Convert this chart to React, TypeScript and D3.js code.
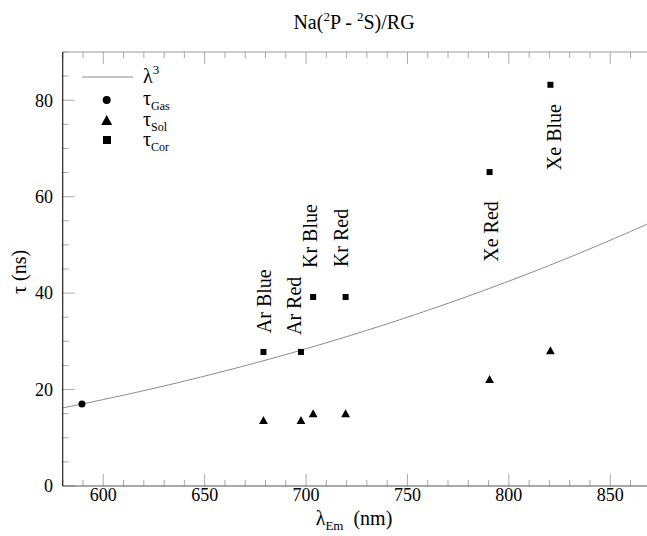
import React from "react";
import * as d3 from "d3";

// ---- data ----
const gasLambda = [589.5];
const gasTau = [17];

const solLambda = [679, 697.5, 703.5, 719.5, 790.5, 820.5];
const solTau = [13.5, 13.5, 14.9, 14.9, 22, 28];

const corLambda = [679, 697.5, 703.5, 719.5, 790.5, 820.5];
const corTau = [27.8, 27.8, 39.2, 39.2, 65.1, 83.2];

const labelNames = ["Ar Blue", "Ar Red", "Kr Blue", "Kr Red", "Xe Red", "Xe Blue"];
const labelLambda = [682.5, 697.5, 705.4, 720.7, 794.7, 825.7];
const labelTau = [31.7, 31.3, 45.2, 45.4, 46.5, 65.5];

const xTicks = [600, 650, 700, 750, 800, 850];
const yTicks = [0, 20, 40, 60, 80];

const curveRef = { lambda: 589.5, tau: 17 };

const W = 647;
const H = 536;
const FONT = "'Liberation Serif', 'Times New Roman', serif";

export default function App() {
  const x = d3.scaleLinear().domain([580, 870]).range([62.7, 650.8]);
  const y = d3.scaleLinear().domain([0, 90]).range([486, 52]);

  const curvePts = d3.range(580, 871, 2).map((l) => [l, curveRef.tau * Math.pow(l / curveRef.lambda, 3)] as [number, number]);
  const line = d3
    .line<[number, number]>()
    .x((d) => x(d[0]))
    .y((d) => y(d[1]));

  const xMinor = d3.range(580, 871, 10);
  const yMinor = d3.range(0, 91, 5);

  const x0 = x.range()[0];
  const x1 = x.range()[1];
  const yb = y.range()[0];
  const yt = y.range()[1];

  const tri = (cx: number, cy: number, s: number) =>
    `M${cx},${cy - s * 0.6}L${cx + s * 0.55},${cy + s * 0.4}L${cx - s * 0.55},${cy + s * 0.4}Z`;

  return (
    <svg
      width={W}
      height={H}
      style={{ position: "absolute", left: 0, top: 0, background: "#fff" }}
      fontFamily={FONT}
    >
      {/* title */}
      <text x={354} y={29} textAnchor="middle" fontSize={20} fill="#000">
        Na(
        <tspan fontSize={13} dy={-8}>2</tspan>
        <tspan dy={8}>P - </tspan>
        <tspan fontSize={13} dy={-8}>2</tspan>
        <tspan dy={8}>S)/RG</tspan>
      </text>

      {/* curve */}
      <clipPath id="plotclip">
        <rect x={x0} y={yt} width={x1 - x0} height={yb - yt} />
      </clipPath>
      <path d={line(curvePts) || ""} fill="none" stroke="#8a8a8a" strokeWidth={1} clipPath="url(#plotclip)" />

      {/* ticks */}
      {xMinor.map((v) => {
        const major = v % 50 === 0;
        const len = major ? 12 : 6;
        return (
          <g key={"xm" + v}>
            <line x1={x(v)} x2={x(v)} y1={yb} y2={yb - len} stroke="#aaa" strokeWidth={1} />
            <line x1={x(v)} x2={x(v)} y1={yt} y2={yt + len} stroke="#aaa" strokeWidth={1} />
          </g>
        );
      })}
      {yMinor.map((v) => {
        const major = v % 20 === 0;
        const len = major ? 12 : 6;
        return <line key={"ym" + v} x1={x0} x2={x0 + len} y1={y(v)} y2={y(v)} stroke="#aaa" strokeWidth={1} />;
      })}

      {/* axes lines */}
      <line x1={x0} x2={x1} y1={yt} y2={yt} stroke="#999" strokeWidth={1.2} />
      <line x1={x0} x2={x1} y1={yb} y2={yb} stroke="#555" strokeWidth={1.2} />
      <line x1={x0} x2={x0} y1={yt} y2={yb} stroke="#222" strokeWidth={1.2} />

      {/* tick labels */}
      {xTicks.map((v) => (
        <text key={"xt" + v} x={x(v)} y={501} textAnchor="middle" fontSize={18} fill="#000">
          {v}
        </text>
      ))}
      {yTicks.map((v) => (
        <text key={"yt" + v} x={53} y={y(v) + 6.3} textAnchor="end" fontSize={18} fill="#000">
          {v}
        </text>
      ))}

      {/* axis titles */}
      <text x={354} y={525} textAnchor="middle" fontSize={20} fill="#000">
        λ<tspan fontSize={13} dy={5}>Em</tspan>
        <tspan dy={-5}>{"\u00a0\u00a0(nm)"}</tspan>
      </text>
      <text transform={`translate(26,272) rotate(-90)`} textAnchor="middle" fontSize={20} fill="#000">
        τ (ns)
      </text>

      {/* data */}
      {gasLambda.map((l, i) => (
        <circle key={"g" + i} cx={x(l)} cy={y(gasTau[i])} r={3.5} fill="#000" />
      ))}
      {solLambda.map((l, i) => (
        <path key={"s" + i} d={tri(x(l), y(solTau[i]), 8)} fill="#000" />
      ))}
      {corLambda.map((l, i) => (
        <rect key={"c" + i} x={x(l) - 3} y={y(corTau[i]) - 3} width={6} height={6} fill="#000" />
      ))}

      {/* point labels */}
      {labelNames.map((n, i) => (
        <text
          key={"l" + i}
          transform={`translate(${x(labelLambda[i])},${y(labelTau[i])}) rotate(-90)`}
          fontSize={20}
          fill="#000"
        >
          {n}
        </text>
      ))}

      {/* legend */}
      <line x1={82} x2={133} y1={77} y2={77} stroke="#8a8a8a" strokeWidth={1} />
      <text x={143} y={83} fontSize={20} fill="#000">
        λ<tspan fontSize={13} dy={-9}>3</tspan>
      </text>
      <circle cx={106.7} cy={100} r={4} fill="#000" />
      <text x={143} y={105} fontSize={20} fill="#000">
        τ<tspan fontSize={12} dy={5}>Gas</tspan>
      </text>
      <path d={tri(106.7, 121, 10)} fill="#000" />
      <text x={143} y={126} fontSize={20} fill="#000">
        τ<tspan fontSize={12} dy={5}>Sol</tspan>
      </text>
      <rect x={103} y={136} width={8} height={8} fill="#000" />
      <text x={143} y={146} fontSize={20} fill="#000">
        τ<tspan fontSize={12} dy={5}>Cor</tspan>
      </text>
    </svg>
  );
}
